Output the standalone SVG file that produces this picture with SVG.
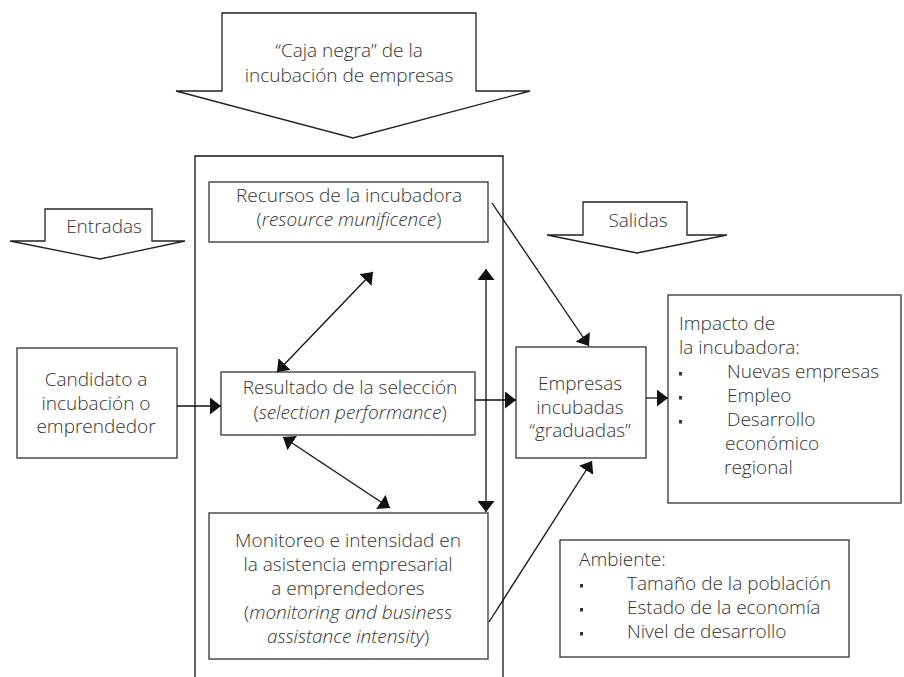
<svg xmlns="http://www.w3.org/2000/svg" width="904" height="677" viewBox="0 0 904 677">
<style>
.t{font-family:"Open Sans","Noto Sans","DejaVu Sans",sans-serif;font-size:19px;font-weight:300;fill:#333}
.c{text-anchor:middle}
.box{fill:#fff;stroke:#333;stroke-width:1.3}
.shape{fill:#fff;stroke:#222;stroke-width:1.3;stroke-linejoin:miter}
.ln{fill:none;stroke:#111;stroke-width:1.3}
.bul{fill:#333}
</style>
<defs>
<marker id="ah" viewBox="0 0 11 17" refX="11" refY="8.5" markerWidth="11" markerHeight="17" markerUnits="userSpaceOnUse" orient="auto-start-reverse">
<path d="M0,0 L11,8.5 L0,17 z" fill="#111"/>
</marker>
</defs>
<rect width="904" height="677" fill="#fff"/>

<g id="caja">
<polygon class="shape" points="176,91 222,91 222,13 476,13 476,91 530,91 353,138"/>
<text class="t c" x="349" y="57">“Caja negra” de la</text>
<text class="t c" x="349" y="82">incubación de empresas</text>
</g>

<g id="entradas">
<polygon class="shape" points="10,241 45,241 45,209 152,209 152,241 185,241 100,259"/>
<text class="t c" x="104" y="233">Entradas</text>
</g>

<g id="salidas">
<polygon class="shape" points="547,235 583,235 583,202 687,202 687,235 727,235 637,253"/>
<text class="t c" x="638" y="227">Salidas</text>
</g>

<g id="caja-negra">
<path class="ln" d="M195,677 L195,156 L503,156 L503,677" stroke="#222"/>
</g>

<g id="recursos">
<rect class="box" x="209" y="182" width="279" height="60"/>
<text class="t c" x="349" y="202">Recursos de la incubadora</text>
<text class="t c" x="349" y="226">(<tspan font-style="italic">resource munificence</tspan>)</text>
</g>

<g id="resultado">
<rect class="box" x="221" y="372" width="254" height="63"/>
<text class="t c" x="350" y="394">Resultado de la selección</text>
<text class="t c" x="350" y="419">(<tspan font-style="italic">selection performance</tspan>)</text>
</g>

<g id="monitoreo">
<rect class="box" x="209" y="513" width="279" height="146"/>
<text class="t c" x="348" y="547">Monitoreo e intensidad en</text>
<text class="t c" x="348" y="571">la asistencia empresarial</text>
<text class="t c" x="348" y="595">a emprendedores</text>
<text class="t c" x="348" y="619">(<tspan font-style="italic">monitoring and business</tspan></text>
<text class="t c" x="348" y="643"><tspan font-style="italic">assistance intensity</tspan>)</text>
</g>

<g id="candidato">
<rect class="box" x="17" y="348" width="160" height="110"/>
<text class="t c" x="96" y="386">Candidato a</text>
<text class="t c" x="96" y="409.5">incubación o</text>
<text class="t c" x="96" y="433">emprendedor</text>
</g>

<g id="empresas">
<rect class="box" x="516" y="347" width="130" height="111"/>
<text class="t c" x="580" y="390">Empresas</text>
<text class="t c" x="580" y="413.5">incubadas</text>
<text class="t c" x="580" y="437">“graduadas”</text>
</g>

<g id="impacto">
<rect class="box" x="668" y="295" width="233" height="208"/>
<text class="t" x="679" y="330">Impacto de</text>
<text class="t" x="679" y="354">la incubadora:</text>
<rect class="bul" x="679" y="372" width="3" height="3.5"/>
<text class="t" x="727" y="378">Nuevas empresas</text>
<rect class="bul" x="679" y="396" width="3" height="3.5"/>
<text class="t" x="727" y="402">Empleo</text>
<rect class="bul" x="679" y="420" width="3" height="3.5"/>
<text class="t" x="727" y="426">Desarrollo</text>
<text class="t" x="725" y="450">económico</text>
<text class="t" x="724" y="474">regional</text>
</g>

<g id="ambiente">
<rect class="box" x="560" y="540" width="289" height="117"/>
<text class="t" x="579" y="566">Ambiente:</text>
<rect class="bul" x="580" y="584" width="3" height="3.5"/>
<text class="t" x="627" y="590">Tamaño de la población</text>
<rect class="bul" x="580" y="608" width="3" height="3.5"/>
<text class="t" x="627" y="614">Estado de la economía</text>
<rect class="bul" x="580" y="632" width="3" height="3.5"/>
<text class="t" x="627" y="638">Nivel de desarrollo</text>
</g>

<g id="connectors">
<line class="ln" x1="177" y1="406" x2="221" y2="406" marker-end="url(#ah)"/>
<line class="ln" x1="475" y1="400" x2="516" y2="400" marker-end="url(#ah)"/>
<line class="ln" x1="646" y1="398" x2="668" y2="398" marker-end="url(#ah)"/>
<line class="ln" x1="277" y1="372" x2="373" y2="272" marker-start="url(#ah)" marker-end="url(#ah)"/>
<line class="ln" x1="283" y1="437" x2="390" y2="508" marker-start="url(#ah)" marker-end="url(#ah)"/>
<line class="ln" x1="486" y1="269" x2="486" y2="512" marker-start="url(#ah)" marker-end="url(#ah)"/>
<line class="ln" x1="492" y1="203" x2="589" y2="346" marker-end="url(#ah)"/>
<line class="ln" x1="489" y1="622" x2="592" y2="461" marker-end="url(#ah)"/>
</g>
</svg>
